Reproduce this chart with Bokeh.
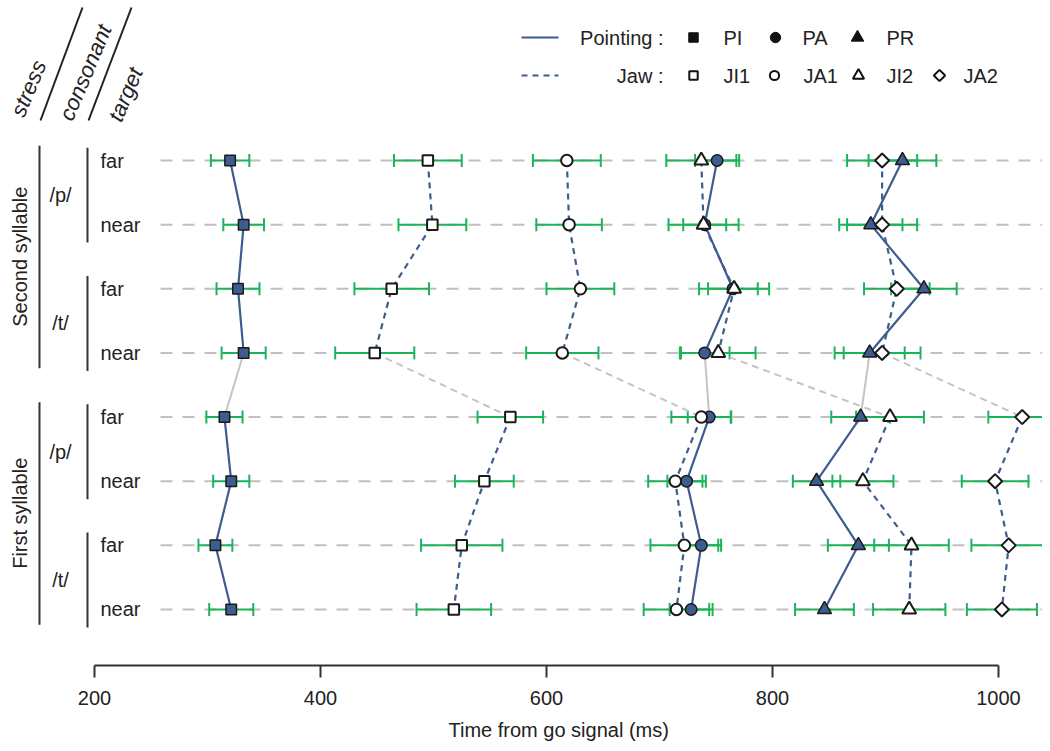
import numpy as np
from bokeh.plotting import figure
from bokeh.models import Range1d, LinearAxis, FixedTicker, Title
from bokeh.core.properties import value
from bokeh.embed import file_html
from bokeh.resources import INLINE

# ---------------- data (ms), rows from top to bottom ----------------
stress_groups = ["Second syllable", "First syllable"]
consonant_groups = ["/p/", "/t/", "/p/", "/t/"]
targets = ["far", "near", "far", "near", "far", "near", "far", "near"]

PI = [320, 332, 327, 332, 315, 321, 307, 321]
PI_se = [17, 18, 19, 19.5, 16, 16, 15, 19.5]
PA = [751, 740, 765, 740, 744, 724, 737, 728]
PA_se = [19.5, 19, 22, 22, 19, 17, 17.5, 19]
PR = [915, 887, 934, 886, 878, 839, 876, 846]
PR_se = [30, 28, 29, 31, 26, 21, 27, 26]
JI1 = [495, 499, 463, 448, 568, 545, 525, 518]
JI1_se = [30, 30, 33, 35, 29, 26, 36, 33]
JA1 = [618, 620, 630, 614, 737, 714, 722, 715]
JA1_se = [30, 29, 30, 32, 26.5, 24, 30, 29]
JI2 = [737, 739, 766, 752, 904, 880, 923, 921]
JI2_se = [31, 31, 31, 33, 30, 27, 33, 32]
JA2 = [897, 897, 910, 897, 1021, 997, 1009, 1003]
JA2_se = [31, 31, 29, 34, 30, 29.5, 33, 31]

x_ticks = [200, 400, 600, 800, 1000]
x_label = "Time from go signal (ms)"

# ---------------- style ----------------
FONT = value("Liberation Sans")
TXT = "#222222"
BLUE = "#3E5C8F"
GREEN = "#1DB35A"
GREYLINE = "#C4C4C4"
GRID = "#C0C0C0"

# picture-pixel helpers (layout only)
PX_PER_MS = 1.13
ROW_PX = 64.14
def sx(px):
    return 200 + (px - 94) / PX_PER_MS
def sy(py):
    return 8 - (py - 160) / ROW_PX

W, H = 1042, 750
FRAME_BOTTOM = 665
p = figure(width=W, height=H,
           x_range=Range1d(sx(0), sx(W)),
           y_range=Range1d(sy(FRAME_BOTTOM), sy(0)),
           output_backend="svg", toolbar_location=None,
           x_axis_location=None, y_axis_location=None,
           min_border_left=0, min_border_right=0, min_border_top=0,
           min_border_bottom=H - FRAME_BOTTOM)
p.outline_line_color = None
for g in p.grid:
    g.visible = False

n = len(targets)
ys = [8 - i for i in range(n)]

# horizontal dashed guide lines
p.segment(x0=[sx(160)] * n, y0=ys, x1=[sx(W)] * n, y1=ys,
          line_color=GRID, line_width=2, line_dash="12 10")

series = [
    ("PI", PI, PI_se, "square", True),
    ("PA", PA, PA_se, "circle", True),
    ("PR", PR, PR_se, "triangle", True),
    ("JI1", JI1, JI1_se, "square", False),
    ("JA1", JA1, JA1_se, "circle", False),
    ("JI2", JI2, JI2_se, "triangle", False),
    ("JA2", JA2, JA2_se, "diamond", False),
]

# error bars
for name, xv, se, mk, pointing in series:
    lo = [a - b for a, b in zip(xv, se)]
    hi = [a + b for a, b in zip(xv, se)]
    p.segment(x0=lo, y0=ys, x1=hi, y1=ys, line_color=GREEN, line_width=2)
    p.scatter(x=lo + hi, y=ys + ys, marker="dash", angle=np.pi / 2, size=13,
              line_color=GREEN, line_width=2)

# connecting lines
for name, xv, se, mk, pointing in series:
    dash = "solid" if pointing else "6 5"
    p.line(xv[:4], ys[:4], line_color=BLUE, line_width=2.2, line_dash=dash)
    p.line(xv[4:], ys[4:], line_color=BLUE, line_width=2.2, line_dash=dash)
    p.line(xv[3:5], ys[3:5], line_color=GREYLINE, line_width=2,
           line_dash="solid" if pointing else "7 5")

# markers
SIZES = {"square": 10.5, "circle": 11.5, "triangle": 14, "diamond": 10}
def draw_marker(x, y, mk, fill, line, lw, scale=1.0):
    if mk == "diamond":
        p.scatter(x=x, y=y, marker="square", angle=np.pi / 4, size=SIZES[mk] * scale,
                  fill_color=fill, line_color=line, line_width=lw)
    else:
        p.scatter(x=x, y=y, marker=mk, size=SIZES[mk] * scale,
                  fill_color=fill, line_color=line, line_width=lw)

for name, xv, se, mk, pointing in series:
    if pointing:
        draw_marker(xv, ys, mk, BLUE, "#1a1a1a", 1.5)
for name, xv, se, mk, pointing in series:
    if not pointing:
        draw_marker(xv, ys, mk, "white", "#1a1a1a", 2)

# ---------------- left labels ----------------
p.text(x=[sx(100)] * n, y=ys, text=targets, text_font=FONT, text_font_size="20px",
       text_color=TXT, text_align="left", text_baseline="middle")

# consonant brackets
for k, lab in enumerate(consonant_groups):
    top, bot = ys[2 * k], ys[2 * k + 1]
    p.segment(x0=[sx(87)], y0=[top + 0.2], x1=[sx(87)], y1=[bot - 0.28],
              line_color="#333333", line_width=2)
    p.text(x=[sx(60)], y=[(top + bot) / 2 - 0.04], text=[lab], text_font=FONT,
           text_font_size="20px", text_color=TXT, text_align="center",
           text_baseline="middle")

# stress brackets
for k, lab in enumerate(stress_groups):
    top, bot = ys[4 * k], ys[4 * k + 3]
    p.segment(x0=[sx(39)], y0=[top + 0.23], x1=[sx(39)], y1=[bot - 0.24],
              line_color="#333333", line_width=2)
    p.text(x=[sx(19)], y=[(top + bot) / 2], text=[lab], text_font=FONT,
           text_font_size="20px", text_color=TXT, text_align="center",
           text_baseline="middle", angle=np.pi / 2)

# header
ang = np.deg2rad(67)
for lab, (hx, hy) in zip(["stress", "consonant", "target"],
                         [(28, 88), (85, 72), (125, 94)]):
    p.text(x=[sx(hx)], y=[sy(hy)], text=[lab], text_font=FONT,
           text_font_style="italic", text_font_size="22px", text_color=TXT,
           text_align="center", text_baseline="middle", angle=ang)
p.segment(x0=[sx(40), sx(88)], y0=[sy(120), sy(120)],
          x1=[sx(82), sx(131)], y1=[sy(7), sy(7)],
          line_color="#222222", line_width=2)

# ---------------- legend ----------------
LEG_Y = [37, 75]
p.line([sx(521), sx(558)], [sy(LEG_Y[0])] * 2, line_color=BLUE, line_width=2)
p.line([sx(521), sx(558)], [sy(LEG_Y[1])] * 2, line_color=BLUE, line_width=2,
       line_dash="6 5")
p.text(x=[sx(663), sx(663)], y=[sy(LEG_Y[0]), sy(LEG_Y[1])],
       text=["Pointing :", "Jaw :"], text_font=FONT, text_font_size="20px",
       text_color=TXT, text_align="right", text_baseline="middle")

leg_pointing = [("PI", "square", 693, 723), ("PA", "circle", 775, 802),
                ("PR", "triangle", 857, 886)]
leg_jaw = [("JI1", "square", 693, 723), ("JA1", "circle", 774, 803),
           ("JI2", "triangle", 858, 886), ("JA2", "diamond", 939, 963)]
for lab, mk, mx, tx in leg_pointing:
    draw_marker([sx(mx)], [sy(LEG_Y[0])], mk, "#111111", "#111111", 1, 0.9)
    p.text(x=[sx(tx)], y=[sy(LEG_Y[0])], text=[lab], text_font=FONT,
           text_font_size="20px", text_color=TXT, text_align="left",
           text_baseline="middle")
for lab, mk, mx, tx in leg_jaw:
    draw_marker([sx(mx)], [sy(LEG_Y[1])], mk, "white", "#111111", 2, 0.8)
    p.text(x=[sx(tx)], y=[sy(LEG_Y[1])], text=[lab], text_font=FONT,
           text_font_size="20px", text_color=TXT, text_align="left",
           text_baseline="middle")

# ---------------- x axis ----------------
ax = LinearAxis(bounds=(x_ticks[0], x_ticks[-1]),
                ticker=FixedTicker(ticks=x_ticks, minor_ticks=[]))
ax.axis_line_width = 2
ax.axis_line_color = "#333333"
ax.major_tick_line_width = 2
ax.major_tick_line_color = "#333333"
ax.major_tick_out = 12
ax.major_tick_in = 0
ax.minor_tick_out = 0
ax.minor_tick_in = 0
ax.major_label_text_font = "Liberation Sans"
ax.major_label_text_font_size = "20px"
ax.major_label_text_color = TXT
ax.major_label_standoff = 13
p.add_layout(ax, "below")

# axis title, placed under the 200-1000 span like the original
title = Title(text=x_label, align="left", offset=448, standoff=19,
              text_font="Liberation Sans", text_font_size="20px",
              text_font_style="normal", text_color=TXT)
p.add_layout(title, "below")

open("out.html", "w").write(file_html(p, INLINE))
